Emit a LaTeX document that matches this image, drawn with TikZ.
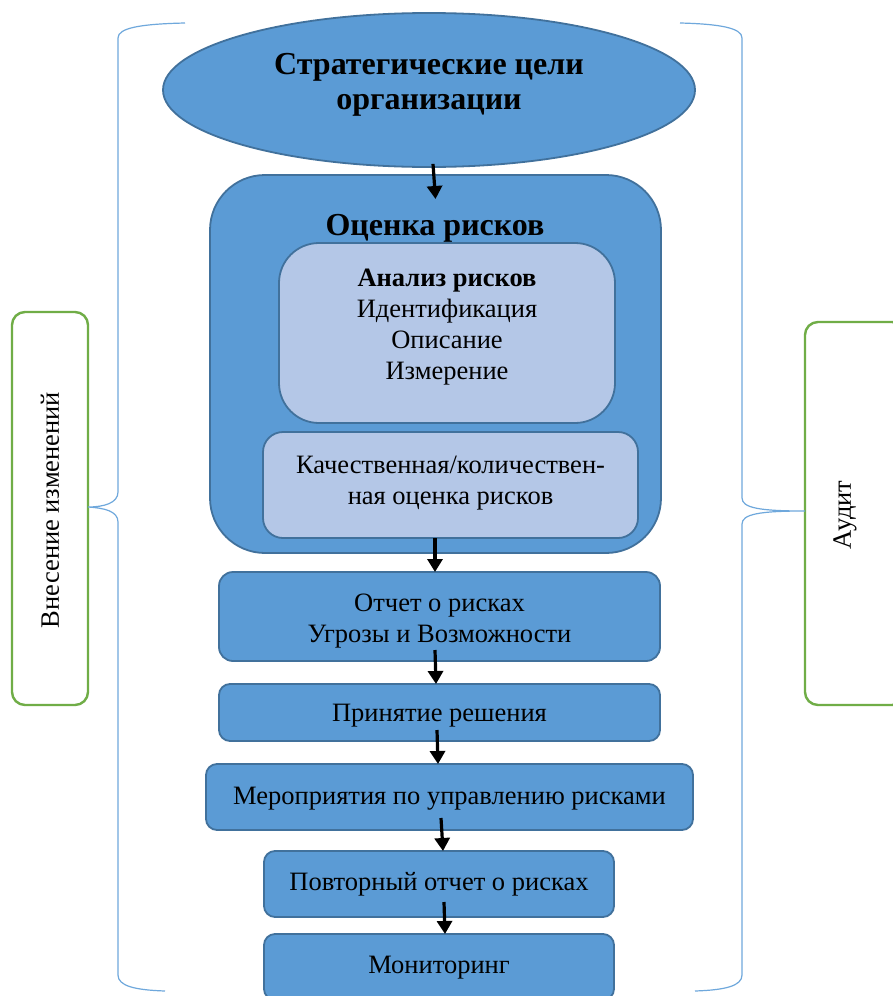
\documentclass[tikz,border=0pt]{standalone}
\usepackage{fontspec}
\setmainfont{Liberation Serif}
\usetikzlibrary{shapes.geometric,arrows.meta}
\definecolor{mblue}{HTML}{5B9BD5}
\definecolor{dblue}{HTML}{41719C}
\definecolor{lblue}{HTML}{B4C7E7}
\definecolor{mgreen}{HTML}{70AD47}
\definecolor{bblue}{HTML}{6FA8DC}
\begin{document}
\begin{tikzpicture}[x=1pt,y=-1pt,
  base/.style={inner sep=0pt, outer sep=0pt, align=center, font=\fontsize{26.5}{31}\selectfont},
  bluebox/.style={base, draw=dblue, line width=1.8pt, fill=mblue, rounded corners=#1},
  bluebox/.default=11pt,
  lightbox/.style={base, draw=dblue, line width=1.8pt, fill=lblue, rounded corners=#1},
  greenbox/.style={base, draw=mgreen, line width=2.4pt, fill=white, rounded corners=13pt},
  txt/.style={base},
  arr/.style={draw=black, line width=3.2pt, -{Triangle[length=13pt,width=15pt]}},
  brace/.style={draw=bblue, line width=1.2pt}
]
\useasboundingbox (0,0) rectangle (893,996);
\fill[white] (0,0) rectangle (893,996);

% green side boxes
\node[greenbox, minimum width=76pt, minimum height=393pt] (lg) at (50,508.5) {};
\node[txt, rotate=90] (lgt) at (50,510) {Внесение изменений};
\node[greenbox, minimum width=100pt, minimum height=383pt] (rg) at (855,513.5) {};
\node[txt, rotate=90] (rgt) at (845,515) {Аудит};

% braces
\draw[brace] (185,23) .. controls (140,24) and (118,28) .. (118,38)
  -- (118,492) .. controls (118,503) and (104,507) .. ([yshift=1.5pt]lg.east)
  .. controls (104,508) and (118,511) .. (118,522)
  -- (118,975) .. controls (118,986) and (135,990) .. (165,991);
\draw[brace] (680,23) .. controls (720,24) and (742,28) .. (742,38)
  -- (742,498) .. controls (742,508) and (760,511) .. ([yshift=2.5pt]rg.west)
  .. controls (760,511) and (742,514) .. (742,524)
  -- (742,975) .. controls (742,986) and (725,990) .. (695,991);

% ellipse
\node[ellipse, draw=dblue, line width=1.8pt, fill=mblue, inner sep=0pt,
      minimum width=532pt, minimum height=154pt] (e) at (429,90) {};
\node[txt, font=\fontsize{32}{35}\selectfont\bfseries] (et) at (429,85)
  {Стратегические цели\\организации};

% risk assessment block
\node[bluebox=55pt, minimum width=451pt, minimum height=378pt] (o) at (435.5,364) {};
\node[txt, font=\fontsize{32}{36}\selectfont\bfseries] (ot) at (435,228) {Оценка рисков};
\node[lightbox=40pt, minimum width=336pt, minimum height=180pt] (b1) at (447,333) {};
\node[txt] (b1t) at (447,327.5) {\textbf{Анализ рисков}\\Идентификация\\Описание\\Измерение};
\node[lightbox=20pt, minimum width=375pt, minimum height=106pt] (b2) at (450.5,485) {};
\node[txt] (b2t) at (450.5,483) {Качественная/количествен-\\ная оценка рисков};

% process boxes
\node[bluebox=14pt, minimum width=441pt, minimum height=89pt] (r1) at (439.5,616.5) {};
\node[txt] (r1t) at ([yshift=-4.5pt]r1.center) {Отчет о рисках\\Угрозы и Возможности};
\node[bluebox, minimum width=441pt, minimum height=57pt] (r2) at (439.5,712.5) {};
\node[txt] (r2t) at ([yshift=-3pt]r2.center) {Принятие решения};
\node[bluebox, minimum width=487pt, minimum height=66pt] (r3) at (449.5,797) {};
\node[txt] (r3t) at ([yshift=-1.5pt]r3.center) {Мероприятия по управлению рисками};
\node[bluebox, minimum width=350pt, minimum height=66pt] (r4) at (439,884) {};
\node[txt] (r4t) at ([yshift=0pt]r4.center) {Повторный отчет о рисках};
\node[bluebox, minimum width=350pt, minimum height=66pt] (r5) at (439,967) {};
\node[txt] (r5t) at ([yshift=-1pt]r5.center) {Мониторинг};

% arrows
\draw[arr] ([xshift=4pt,yshift=4pt]e.south) -- ([yshift=-24pt]o.north);
\draw[arr] ([xshift=-15.5pt]b2.south) -- ([xshift=-4.5pt]r1.north);
\draw[arr] ([xshift=-4.5pt,yshift=11pt]r1.south) -- ([xshift=-3.5pt]r2.north);
\draw[arr] ([xshift=-2.5pt,yshift=11pt]r2.south) -- ([xshift=-11.5pt]r3.north);
\draw[arr] ([xshift=-8.5pt,yshift=12pt]r3.south) -- ([xshift=4pt]r4.north);
\draw[arr] ([xshift=5pt,yshift=15pt]r4.south) -- ([xshift=6pt]r5.north);
\end{tikzpicture}
\end{document}
